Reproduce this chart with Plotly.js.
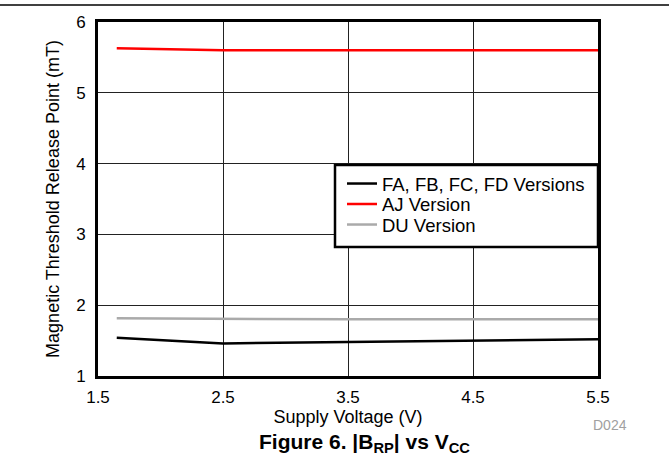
<!DOCTYPE html>
<html><head><meta charset="utf-8">
<script src="https://cdn.plot.ly/plotly-3.0.1.min.js"></script>
<style>body{margin:0;background:#fff}#c{width:669px;height:466px}</style>
</head><body><div id="c"></div>
<script>
const voltage = [1.65, 2.5, 3.5, 4.5, 5.5];
const faSeries = [1.54, 1.46, 1.48, 1.50, 1.52];
const ajSeries = [5.63, 5.60, 5.60, 5.60, 5.60];
const duSeries = [1.815, 1.805, 1.80, 1.80, 1.80];
const seriesNames = ['FA, FB, FC, FD Versions', 'AJ Version', 'DU Version'];
const xTicks = [1.5, 2.5, 3.5, 4.5, 5.5];
const yTicks = [1, 2, 3, 4, 5, 6];

const F = 'Arial, Liberation Sans, sans-serif';
const W = 500, H = 354;
const px = v => (v - 98) / W;
const py = v => (376 - v) / H;
const traces = [
  {x: voltage, y: faSeries, name: seriesNames[0], mode: 'lines', line: {color: '#000000', width: 2.5}, legend: 'legend'},
  {x: voltage, y: ajSeries, name: seriesNames[1], mode: 'lines', line: {color: '#ff0000', width: 2.5}, legend: 'legend2'},
  {x: voltage, y: duSeries, name: seriesNames[2], mode: 'lines', line: {color: '#aaaaaa', width: 2.5}, legend: 'legend3'}
];
const legBase = {xanchor: 'left', yanchor: 'middle', bgcolor: 'rgba(0,0,0,0)', borderwidth: 0,
                 font: {family: F, size: 18.5, color: '#000'}};
const rowY = [184, 204.5, 225];
const legX = px(342);
const layout = {
  width: 669, height: 466,
  margin: {l: 98, r: 71, t: 22, b: 90},
  paper_bgcolor: '#fff', plot_bgcolor: '#fff',
  font: {family: F, color: '#000', size: 17},
  showlegend: true,
  legend: Object.assign({}, legBase, {x: legX, y: py(rowY[0])}),
  legend2: Object.assign({}, legBase, {x: legX, y: py(rowY[1])}),
  legend3: Object.assign({}, legBase, {x: legX, y: py(rowY[2])}),
  xaxis: {range: [1.5, 5.5], tickvals: xTicks, ticktext: xTicks.map(v => v.toFixed(1)),
          showgrid: true, gridcolor: '#222', gridwidth: 1, zeroline: false,
          showline: true, linecolor: '#000', linewidth: 3, mirror: true, ticks: '',
          tickfont: {family: F, size: 17}, ticklabelstandoff: 4,
          title: {text: 'Supply Voltage (V)', font: {family: F, size: 18}, standoff: 0}},
  yaxis: {range: [1, 6], tickvals: yTicks, showgrid: true, gridcolor: '#222', gridwidth: 1,
          zeroline: false, showline: true, linecolor: '#000', linewidth: 3, mirror: true, ticks: '',
          tickfont: {family: F, size: 17}, ticklabelstandoff: 6,
          title: {text: 'Magnetic Threshold Release Point (mT)', font: {family: F, size: 18}, standoff: 12}},
  shapes: [
    {type: 'line', xref: 'paper', yref: 'paper', x0: -98/W, x1: 571/W, y0: py(5), y1: py(5),
     line: {color: '#000', width: 1.5}},
    {type: 'rect', xref: 'paper', yref: 'paper', layer: 'above', x0: px(335), x1: px(598), y0: py(247), y1: py(165),
     fillcolor: '#fff', line: {color: '#000', width: 2.5}}
  ],
  annotations: [
    {xref: 'paper', yref: 'paper', x: px(364), y: py(443), xanchor: 'center', yanchor: 'middle',
     showarrow: false, text: '<b>Figure 6. |B<sub>RP</sub>| vs V<sub>CC</sub></b>',
     font: {family: F, size: 21, color: '#000'}},
    {xref: 'paper', yref: 'paper', x: px(610), y: py(425), xanchor: 'center', yanchor: 'middle',
     showarrow: false, text: 'D024', font: {family: F, size: 14, color: '#a0a0a0'}}
  ]
};
Plotly.newPlot('c', traces, layout, {displayModeBar: false, staticPlot: true});
</script></body></html>
